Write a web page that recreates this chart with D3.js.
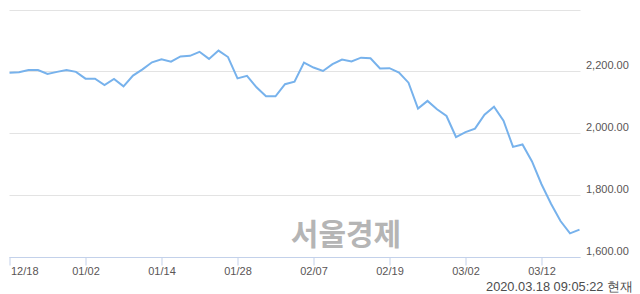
<!DOCTYPE html>
<html lang="ko">
<head>
  <meta charset="UTF-8" />
  <title>KOSPI</title>
  <script src="https://cdn.jsdelivr.net/npm/d3@7"></script>
  <style>
    body {
      margin: 0;
      background: #fff;
      font-family: "Liberation Sans", Arial, sans-serif;
    }
    svg { display: block; }
    .grid line { stroke: #e3e3e3; stroke-width: 1px; }
    .tick-label { font-size: 11px; fill: #5a5555; }
    .line { fill: none; stroke: #77b2ec; stroke-width: 2px; }
  </style>
</head>
<body>
  <div id="chart"></div>

  <script>
    const dates = [
      "12/18", "12/19", "12/20", "12/23", "12/24", "12/26", "12/27", "12/30",
      "01/02", "01/03", "01/06", "01/07", "01/08", "01/09", "01/10", "01/13",
      "01/14", "01/15", "01/16", "01/17", "01/20", "01/21", "01/22", "01/23",
      "01/28", "01/29", "01/30", "01/31", "02/03", "02/04", "02/05", "02/06",
      "02/07", "02/10", "02/11", "02/12", "02/13", "02/14", "02/17", "02/18",
      "02/19", "02/20", "02/21", "02/24", "02/25", "02/26", "02/27", "02/28",
      "03/02", "03/03", "03/04", "03/05", "03/06", "03/09", "03/10", "03/11",
      "03/12", "03/13", "03/16", "03/17", "03/18"
    ];

    const values = [
      2195, 2197, 2204, 2204, 2191, 2198, 2204, 2198,
      2176, 2176, 2155, 2175, 2151, 2186, 2206, 2229,
      2239, 2231, 2248, 2250, 2263, 2240, 2267, 2246,
      2177, 2185, 2148, 2119, 2119, 2158, 2166, 2228,
      2212, 2201, 2223, 2238, 2232, 2244, 2242, 2209,
      2210, 2196, 2163, 2079, 2104, 2077, 2055, 1987,
      2003, 2014, 2059, 2085, 2040, 1955, 1963, 1908,
      1834, 1771, 1715, 1675, 1687
    ];

    const xTickLabels = ["12/18", "01/02", "01/14", "01/28", "02/07", "02/19", "03/02", "03/12"];
    const gridValues = [1600, 1800, 2000, 2200, 2400];
    const yTickLabels = [1600, 1800, 2000, 2200];
    const stamp = "2020.03.18 09:05:22 현재";
    const watermark = "서울경제";

    const width = 640;
    const height = 294;
    const plotLeft = 9.5, plotRight = 579.5, plotTop = 9.5, plotBottom = 256.5;

    const svg = d3.select("#chart")
      .append("svg")
      .attr("width", width)
      .attr("height", height);

    const x = d3.scalePoint()
      .domain(dates)
      .range([plotLeft, plotRight]);

    const y = d3.scaleLinear()
      .domain([1600, 2400])
      .range([plotBottom, plotTop]);

    // grid
    svg.append("g")
      .attr("class", "grid")
      .selectAll("line")
      .data(gridValues)
      .enter()
      .append("line")
      .attr("x1", plotLeft)
      .attr("x2", plotRight + 1)
      .attr("y1", d => Math.round(y(d)) + 0.5)
      .attr("y2", d => Math.round(y(d)) + 0.5);

    // y labels on the right
    svg.append("g")
      .selectAll("text")
      .data(yTickLabels)
      .enter()
      .append("text")
      .attr("class", "tick-label")
      .attr("x", 586)
      .attr("y", d => y(d) - 2)
      .text(d => d3.format(",.2f")(d));

    // watermark
    svg.append("text")
      .attr("x", 346)
      .attr("y", 245)
      .attr("text-anchor", "middle")
      .style("font-family", "'Noto Sans CJK KR', sans-serif")
      .style("font-weight", "bold")
      .style("font-size", "30px")
      .style("fill", "#b5b5b5")
      .text(watermark);

    // x axis
    const xAxis = d3.axisBottom(x)
      .tickValues(xTickLabels)
      .tickSize(8)
      .tickSizeOuter(0);

    const gx = svg.append("g")
      .attr("transform", `translate(0, ${Math.round(plotBottom) + 0.5})`)
      .call(xAxis);

    gx.select(".domain").attr("stroke", "#c3d1ea").attr("d", `M${plotLeft},0H${plotRight + 1}`);
    gx.selectAll(".tick line").attr("stroke", "#c3d1ea");
    gx.selectAll(".tick text")
      .attr("class", "tick-label")
      .attr("y", 10)
      .attr("dy", "0.71em")
      .style("font-family", "'Liberation Sans', Arial, sans-serif")
      .attr("text-anchor", (d, i) => i === 0 ? "start" : "middle")
      .attr("x", (d, i) => i === 0 ? 1 : 0);

    // line
    const line = d3.line()
      .x((d, i) => x(dates[i]))
      .y(d => y(d));

    svg.append("path")
      .datum(values)
      .attr("class", "line")
      .attr("d", line);

    // timestamp
    svg.append("text")
      .attr("x", 633)
      .attr("y", 290.5)
      .attr("text-anchor", "end")
      .style("font-size", "12.8px")
      .style("fill", "#4d4d4d")
      .text(stamp);
  </script>
</body>
</html>
